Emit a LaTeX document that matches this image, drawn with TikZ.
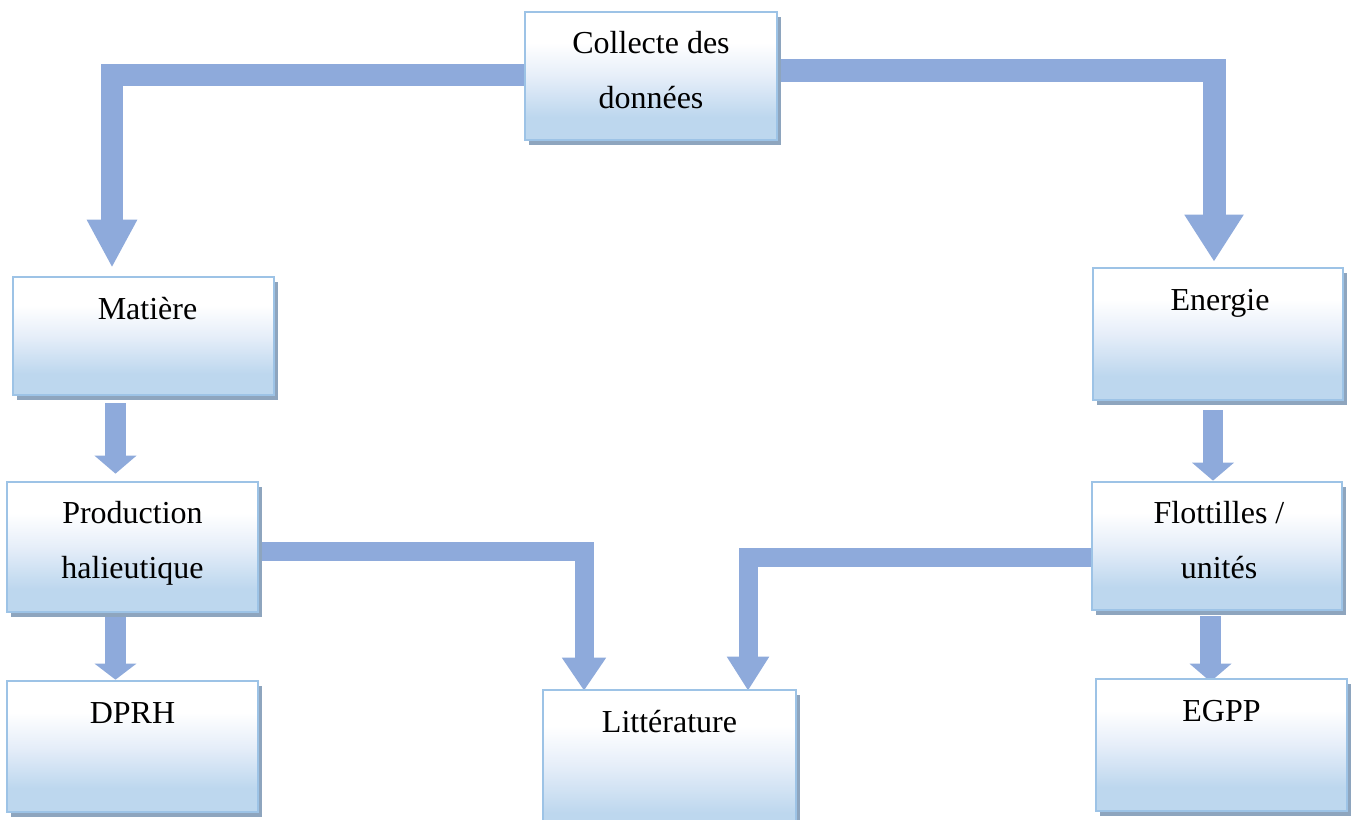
\documentclass[tikz,border=0pt]{standalone}
\usepackage{fontspec}
\setmainfont{Liberation Serif}
\usetikzlibrary{arrows.meta,calc,shadows}
\definecolor{arrowc}{HTML}{8EAADB}
\definecolor{boxborder}{HTML}{9DC3E6}
\definecolor{shadowc}{HTML}{8EA5BE}
\definecolor{boxbot}{HTML}{BDD7EE}
\definecolor{boxmid}{HTML}{E6EEF9}
\pgfdeclareverticalshading{boxshade}{100bp}{color(0bp)=(boxbot); color(25bp)=(boxbot); color(34bp)=(boxbot); color(50bp)=(boxmid); color(63bp)=(white); color(100bp)=(white)}
\pgfdeclarelayer{bg}
\pgfsetlayers{bg,main}
\begin{document}
\begin{tikzpicture}[x=0.75pt,y=-0.75pt,
  box/.style={draw=boxborder, line width=2pt, shading=boxshade, inner sep=0pt,
    drop shadow={shadow xshift=3pt, shadow yshift=-3.5pt, fill=shadowc, opacity=1}},
  lbl/.style={font=\fontsize{24}{41.25}\selectfont, align=center, anchor=base, inner sep=0pt},
  band/.style={draw=arrowc, line width=#1, line join=miter}]
\useasboundingbox (0,0) rectangle (1352,819);
\clip (0,0) rectangle (1352,819);
% boxes
\node[box, minimum width=189pt, minimum height=96pt] (collecte) at (651,76) {};
\node[box, minimum width=195.75pt, minimum height=88.5pt] (matiere) at (143.5,336) {};
\node[box, minimum width=187.5pt, minimum height=99pt] (energie) at (1218,334) {};
\node[box, minimum width=188.25pt, minimum height=97.5pt] (production) at (132.5,547) {};
\node[box, minimum width=187.5pt, minimum height=96pt] (flottilles) at (1217,546) {};
\node[box, minimum width=188.25pt, minimum height=98.25pt] (dprh) at (132.5,746.5) {};
\node[box, minimum width=189.75pt, minimum height=112.5pt] (litterature) at (669.5,765) {};
\node[box, minimum width=188.25pt, minimum height=99pt] (egpp) at (1221.5,745) {};
% labels
\node[lbl] (collecte-t) at ($(collecte.north)+(0,98)$) {Collecte des\\données};
\node[lbl] (matiere-t) at ($(matiere.north)+(4,44)$) {Matière};
\node[lbl] (energie-t) at ($(energie.north)+(2,44)$) {Energie};
\node[lbl] (production-t) at ($(production.north)+(0,98)$) {Production\\halieutique};
\node[lbl] (flottilles-t) at ($(flottilles.north)+(2,98)$) {Flottilles /\\unités};
\node[lbl] (dprh-t) at ($(dprh.north)+(0,44)$) {DPRH};
\node[lbl] (litterature-t) at ($(litterature.north)+(0,44)$) {Littérature};
\node[lbl] (egpp-t) at ($(egpp.north)+(0,44)$) {EGPP};
% arrows
\begin{pgfonlayer}{bg}
\draw[band=16.5pt, -{Triangle[width=35.25pt,length=36pt]}, shorten >=6pt]
  ($(collecte.west)+(0,-1.5)$) -| ($(matiere.north)+(-31.5,0)$);
\draw[band=17.25pt, -{Triangle[width=42pt,length=35.25pt]}, shorten >=3.75pt]
  ($(collecte.east)+(0,-5.5)$) -| ($(energie.north)+(-4,0)$);
\draw[band=15.75pt, -{Triangle[width=30.75pt,length=13.5pt]}, shorten <=5.25pt, shorten >=5.25pt]
  ($(matiere.south)+(-28,0)$) -- ($(production.north)+(-17,0)$);
\draw[band=15pt, -{Triangle[width=30.75pt,length=13.5pt]}, shorten <=6.75pt]
  ($(energie.south)+(-5,0)$) -- ($(flottilles.north)+(-4,0)$);
\draw[band=15.75pt, -{Triangle[width=30.75pt,length=12pt]}, shorten <=3pt]
  ($(production.south)+(-17,0)$) -- ($(dprh.north)+(-17,0)$);
\draw[band=15.75pt, -{Triangle[width=30.75pt,length=13.5pt]}, shorten <=3.75pt, shorten >=-3pt]
  ($(flottilles.south)+(-6.5,0)$) -- ($(egpp.north)+(-11,0)$);
\draw[band=14.25pt, -{Triangle[width=31.5pt,length=24.75pt]}, shorten >=-1.5pt]
  ($(production.east)+(0,4.5)$) -| ($(litterature.north)+(-85.5,0)$);
\draw[band=14.25pt, -{Triangle[width=30pt,length=25.5pt]}, shorten >=-1.5pt]
  ($(flottilles.west)+(0,11)$) -| ($(litterature.north)+(78.5,0)$);
\end{pgfonlayer}
\end{tikzpicture}
\end{document}
